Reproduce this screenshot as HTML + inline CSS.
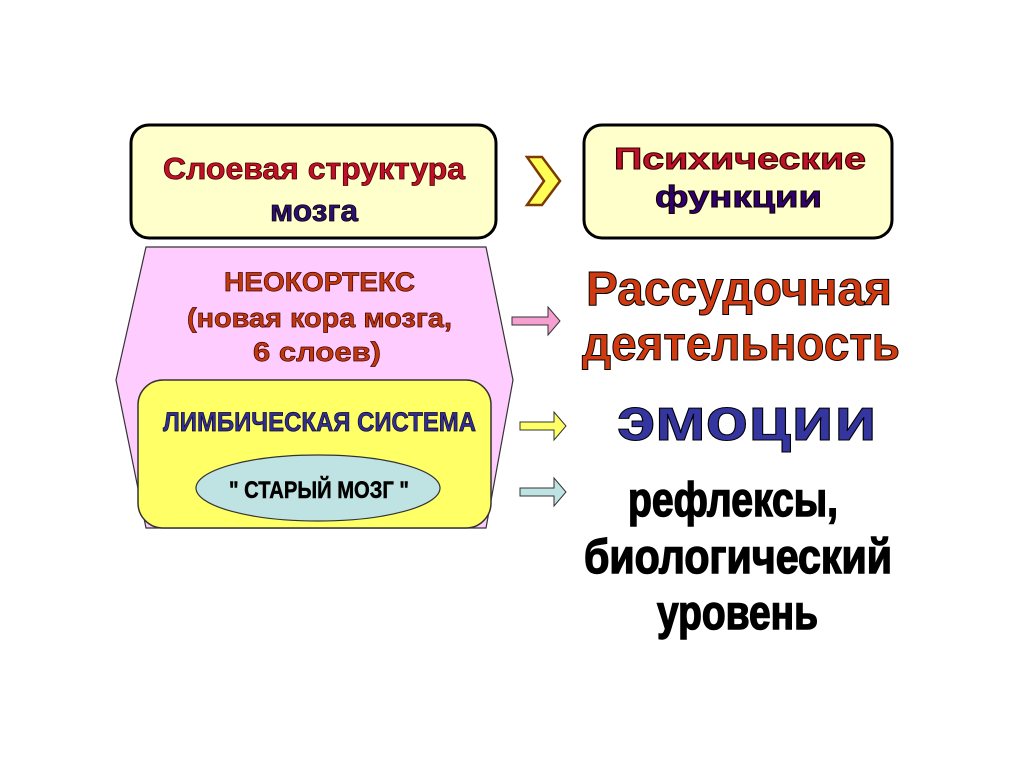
<!DOCTYPE html>
<html><head><meta charset="utf-8"><style>
html,body{margin:0;padding:0;background:#fff;}
svg{display:block;font-family:"Liberation Sans","DejaVu Sans",sans-serif;font-weight:bold;}
</style></head><body>
<svg width="1024" height="767" viewBox="0 0 1024 767" xmlns="http://www.w3.org/2000/svg">
<rect x="0" y="0" width="1024" height="767" fill="#fff"/>
<rect x="131" y="125" width="365" height="113" rx="18" fill="#ffffcc" stroke="#000" stroke-width="3"/>
<text x="163" y="179" font-size="31" textLength="302" lengthAdjust="spacingAndGlyphs" fill="#c0102a" stroke="#400" stroke-width="0.8">Слоевая структура</text>
<text x="270" y="221" font-size="31" textLength="88" lengthAdjust="spacingAndGlyphs" fill="#2a1070" stroke="#100" stroke-width="0.8">мозга</text>
<polygon points="527,157 542,157 560,181 542,205 527,205 544,181" fill="#ffff55" stroke="#7a3a00" stroke-width="2.5"/>
<rect x="584" y="125" width="308" height="113" rx="18" fill="#ffffcc" stroke="#000" stroke-width="3"/>
<text x="614" y="169" font-size="31" textLength="252" lengthAdjust="spacingAndGlyphs" fill="#c0102a" stroke="#300" stroke-width="1">Психические</text>
<text x="655" y="207" font-size="31" textLength="167" lengthAdjust="spacingAndGlyphs" fill="#300070" stroke="#100" stroke-width="1">функции</text>
<polygon points="146,247 486,247 513,380 486,528 146,528 116,380" fill="#ffccff" stroke="#333" stroke-width="1.2"/>
<text x="224" y="291" font-size="27" textLength="191" lengthAdjust="spacingAndGlyphs" fill="#c03a10" stroke="#400" stroke-width="0.7">НЕОКОРТЕКС</text>
<text x="187" y="327" font-size="27" textLength="265" lengthAdjust="spacingAndGlyphs" fill="#c03a10" stroke="#400" stroke-width="0.7">(новая кора мозга,</text>
<text x="253" y="361" font-size="27" textLength="128" lengthAdjust="spacingAndGlyphs" fill="#c03a10" stroke="#400" stroke-width="0.7">6 слоев)</text>
<rect x="138" y="380" width="353" height="148" rx="25" fill="#ffff66" stroke="#333" stroke-width="1.5"/>
<text x="163" y="431" font-size="27" textLength="313" lengthAdjust="spacingAndGlyphs" fill="#303090" stroke="#102" stroke-width="0.7">ЛИМБИЧЕСКАЯ СИСТЕМА</text>
<ellipse cx="318" cy="488" rx="122" ry="33" fill="#bfe2e2" stroke="#333" stroke-width="1.2"/>
<text x="229" y="498" font-size="24" textLength="180" lengthAdjust="spacingAndGlyphs" fill="#000" stroke="#000" stroke-width="0.5">" СТАРЫЙ МОЗГ "</text>
<polygon points="512,317 548,317 548,307 560,321 548,335 548,325 512,325" fill="#f5a0d0" stroke="#333" stroke-width="1"/>
<polygon points="520,422 554,422 554,412 566,426 554,440 554,430 520,430" fill="#ffff66" stroke="#333" stroke-width="1"/>
<polygon points="520,488 554,488 554,478 566,492 554,506 554,496 520,496" fill="#bfe2e2" stroke="#333" stroke-width="1"/>
<text x="586" y="305" font-size="48" textLength="306" lengthAdjust="spacingAndGlyphs" fill="#d03a10" stroke="#000" stroke-width="1">Рассудочная</text>
<text x="582" y="360" font-size="48" textLength="318" lengthAdjust="spacingAndGlyphs" fill="#d03a10" stroke="#000" stroke-width="1">деятельность</text>
<text x="617" y="440" font-size="60" textLength="260" lengthAdjust="spacingAndGlyphs" fill="#3535a0" stroke="#000" stroke-width="1">эмоции</text>
<text x="628" y="516" font-size="48" textLength="210" lengthAdjust="spacingAndGlyphs" fill="#000" stroke="#000" stroke-width="1.5">рефлексы,</text>
<text x="584" y="573" font-size="48" textLength="308" lengthAdjust="spacingAndGlyphs" fill="#000" stroke="#000" stroke-width="1.5">биологический</text>
<text x="657" y="629" font-size="48" textLength="161" lengthAdjust="spacingAndGlyphs" fill="#000" stroke="#000" stroke-width="1.5">уровень</text>
</svg>
</body></html>
